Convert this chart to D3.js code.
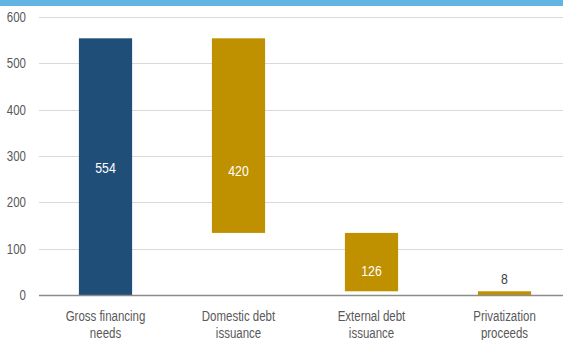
<!DOCTYPE html>
<html>
<head>
<meta charset="utf-8">
<script src="https://cdn.jsdelivr.net/npm/d3@7"></script>
<style>
  body { margin: 0; background: #fff; }
  svg text { font-family: "Liberation Sans", Arial, sans-serif; }
</style>
</head>
<body>
<svg width="563" height="340"></svg>
<script>
// waterfall: gross needs and how they are financed
var categories = ["Gross financing needs", "Domestic debt issuance", "External debt issuance", "Privatization proceeds"];
var catLines = [["Gross financing", "needs"], ["Domestic debt", "issuance"], ["External debt", "issuance"], ["Privatization", "proceeds"]];
var values = [554, 420, 126, 8];
// where the value labels sit, in chart units
var labelAt = [274, 269, 52, 36];
var yTicks = [0, 100, 200, 300, 400, 500, 600];

var svg = d3.select("svg");
var W = 563, H = 340;
var padding = {t: 17, r: 0, b: 45, l: 39};
var narrow = 0.82; // squeeze text horizontally, original uses a narrow face

// banner strip at top (title is cut off in the original)
svg.append("rect")
  .attr("x", 0).attr("y", 0)
  .attr("width", W).attr("height", 6)
  .attr("fill", "#62b4e4");

// plot area runs a bit past the right edge in the original
var x = d3.scaleBand()
  .domain(categories)
  .range([padding.l, 571])
  .paddingInner(0.6)
  .paddingOuter(0.3);

var y = d3.scaleLinear()
  .domain([0, 600])
  .range([H - padding.b, padding.t]);

function narrowText(parent, px, py) {
  return parent.append("g")
    .attr("transform", "translate(" + px + "," + py + ")scale(" + narrow + ",1)")
    .append("text");
}

// gridlines
svg.append("g")
  .selectAll("line")
  .data(yTicks.slice(1))
  .enter()
  .append("line")
  .attr("x1", padding.l)
  .attr("x2", W)
  .attr("y1", function(d) { return Math.round(y(d)) + 0.5; })
  .attr("y2", function(d) { return Math.round(y(d)) + 0.5; })
  .attr("stroke", "#d9d9d9")
  .attr("stroke-width", 1.2);

// tick labels
var tickG = svg.append("g");
yTicks.forEach(function(d) {
  narrowText(tickG, 26, y(d))
    .attr("dy", "0.36em")
    .attr("text-anchor", "end")
    .attr("fill", "#595959")
    .style("font-size", "14px")
    .text(d);
});

// compute waterfall bases
var bars = [];
var running = values[0];
bars.push({cat: categories[0], lo: 0, hi: values[0], v: values[0], lab: labelAt[0], color: "#1f4e79"});
for (var i = 1; i < values.length; i++) {
  bars.push({cat: categories[i], lo: running - values[i], hi: running, v: values[i], lab: labelAt[i], color: "#bf9000"});
  running -= values[i];
}

svg.append("g")
  .selectAll("rect")
  .data(bars)
  .enter()
  .append("rect")
  .attr("x", function(d) { return x(d.cat); })
  .attr("width", x.bandwidth())
  .attr("y", function(d) { return y(d.hi); })
  .attr("height", function(d) { return y(d.lo) - y(d.hi); })
  .attr("fill", function(d) { return d.color; });

// value labels: white inside, gray when the bar is too thin
var labG = svg.append("g");
bars.forEach(function(d) {
  narrowText(labG, x(d.cat) + x.bandwidth() / 2, y(d.lab))
    .attr("dy", "0.36em")
    .attr("text-anchor", "middle")
    .attr("fill", (y(d.lo) - y(d.hi)) > 20 ? "#ffffff" : "#404040")
    .style("font-size", "15px")
    .text(d.v);
});

// x axis line
svg.append("line")
  .attr("x1", padding.l)
  .attr("x2", W)
  .attr("y1", y(0) + 0.5)
  .attr("y2", y(0) + 0.5)
  .attr("stroke", "#8c8c8c")
  .attr("stroke-width", 1.5);

// category labels
var catG = svg.append("g");
categories.forEach(function(c, i) {
  var t = narrowText(catG, x(c) + x.bandwidth() / 2, 321)
    .attr("text-anchor", "middle")
    .attr("fill", "#595959")
    .style("font-size", "14px");
  catLines[i].forEach(function(line, j) {
    t.append("tspan")
      .attr("x", 0)
      .attr("dy", j === 0 ? 0 : 17)
      .text(line);
  });
});
</script>
</body>
</html>
